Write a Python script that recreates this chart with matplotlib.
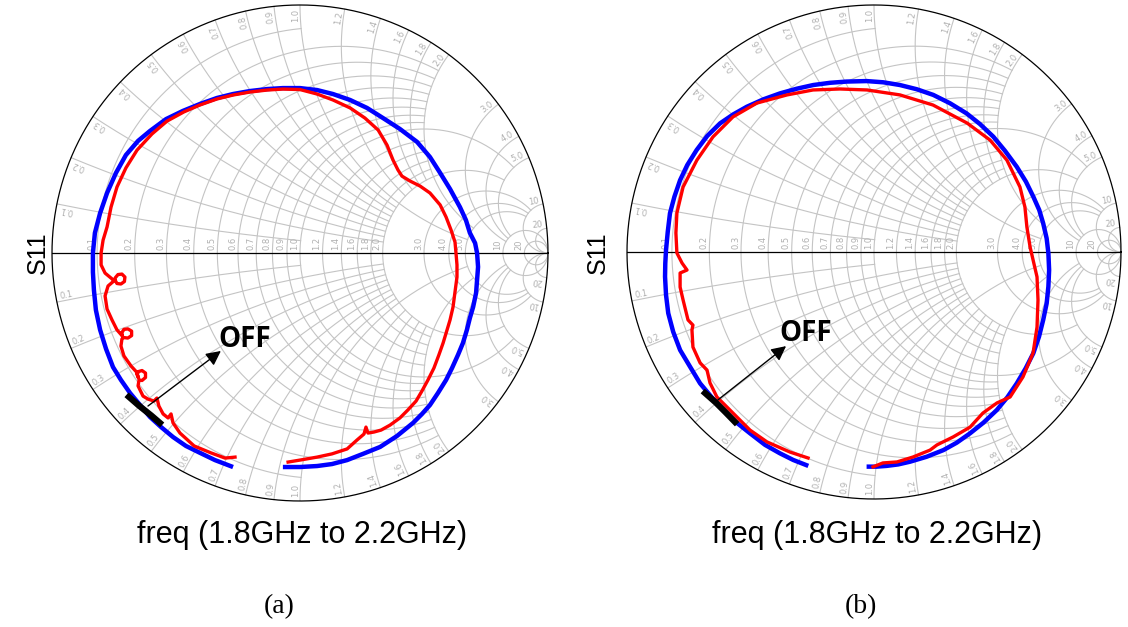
import numpy as np
import matplotlib
matplotlib.use("Agg")
import matplotlib.pyplot as plt

# ---------------- data (reflection coefficient, real / imag) ----------------
blue_a_re = [-0.270, -0.343, -0.403, -0.460, -0.512, -0.560, -0.605, -0.645, -0.685, -0.722,
             -0.754, -0.782, -0.806, -0.823, -0.831, -0.835, -0.835, -0.827, -0.806, -0.778,
             -0.742, -0.702, -0.653, -0.605, -0.540, -0.472, -0.403, -0.335, -0.270, -0.202,
             -0.133, -0.069, 0.000, 0.069, 0.133, 0.202, 0.270, 0.335, 0.403, 0.472,
             0.524, 0.565, 0.605, 0.645, 0.669, 0.685, 0.706, 0.714, 0.718, 0.714,
             0.710, 0.698, 0.685, 0.673, 0.657, 0.637, 0.613, 0.589, 0.556, 0.524,
             0.492, 0.456, 0.391, 0.323, 0.254, 0.190, 0.129, 0.069, 0.000, -0.069]
blue_a_im = [-0.863, -0.835, -0.806, -0.778, -0.742, -0.702, -0.661, -0.613, -0.565, -0.512,
             -0.460, -0.387, -0.310, -0.230, -0.149, -0.077, 0.000, 0.081, 0.161, 0.242,
             0.323, 0.395, 0.452, 0.492, 0.540, 0.573, 0.601, 0.625, 0.641, 0.653,
             0.661, 0.665, 0.665, 0.657, 0.641, 0.617, 0.585, 0.544, 0.500, 0.448,
             0.387, 0.323, 0.258, 0.185, 0.133, 0.081, 0.040, 0.000, -0.056, -0.109,
             -0.161, -0.218, -0.262, -0.310, -0.363, -0.411, -0.464, -0.512, -0.565, -0.613,
             -0.649, -0.685, -0.738, -0.782, -0.810, -0.835, -0.851, -0.859, -0.863, -0.863]

red_a_re = [-0.262, -0.302, -0.359, -0.427, -0.484, -0.512, -0.520, -0.532, -0.552, -0.569,
            -0.577, -0.589, -0.613, -0.633, -0.653, -0.649, -0.637, -0.623, -0.623, -0.637,
            -0.651, -0.657, -0.651, -0.659, -0.681, -0.710, -0.722, -0.718, -0.710, -0.694,
            -0.679, -0.679, -0.694, -0.710, -0.718, -0.716, -0.738, -0.758, -0.778, -0.786,
            -0.774, -0.746, -0.738, -0.722, -0.708, -0.706, -0.718, -0.734, -0.744, -0.750,
            -0.786, -0.802,
            -0.802, -0.794, -0.778, -0.762, -0.738, -0.702, -0.657, -0.597, -0.536, -0.468,
            -0.403, -0.335, -0.270, -0.202, -0.133, -0.069, 0.000, 0.069, 0.133, 0.202,
            0.262, 0.315, 0.351, 0.375, 0.395, 0.411, 0.444, 0.484, 0.524, 0.565,
            0.589, 0.609, 0.625, 0.629, 0.633, 0.633, 0.625, 0.617, 0.605, 0.593,
            0.577, 0.560, 0.540, 0.516, 0.492, 0.468, 0.435, 0.403, 0.363, 0.327,
            0.298, 0.274, 0.266, 0.258, 0.230, 0.190, 0.129, 0.069, 0.000, -0.048]
red_a_im = [-0.823, -0.827, -0.806, -0.778, -0.726, -0.685, -0.649, -0.665, -0.649, -0.617,
            -0.585, -0.597, -0.589, -0.577, -0.536, -0.512, -0.514, -0.502, -0.484, -0.474,
            -0.478, -0.490, -0.504, -0.480, -0.456, -0.415, -0.375, -0.347, -0.341, -0.343,
            -0.333, -0.315, -0.306, -0.308, -0.321, -0.335, -0.310, -0.270, -0.226, -0.173,
            -0.133, -0.109, -0.123, -0.125, -0.115, -0.097, -0.085, -0.087, -0.099, -0.111,
            -0.081, -0.048,
            0.000, 0.052, 0.105, 0.185, 0.266, 0.343, 0.415, 0.480, 0.532, 0.569,
            0.597, 0.621, 0.637, 0.649, 0.657, 0.661, 0.659, 0.641, 0.617, 0.585,
            0.544, 0.496, 0.435, 0.375, 0.335, 0.310, 0.290, 0.270, 0.242, 0.194,
            0.145, 0.093, 0.044, 0.000, -0.048, -0.097, -0.157, -0.218, -0.270, -0.310,
            -0.363, -0.411, -0.464, -0.512, -0.556, -0.597, -0.633, -0.665, -0.694, -0.714,
            -0.722, -0.726, -0.702, -0.730, -0.754, -0.790, -0.810, -0.823, -0.835, -0.843]

blue_b_re = [-0.266, -0.327, -0.381, -0.441, -0.502, -0.556, -0.610, -0.657, -0.704, -0.745,
             -0.785, -0.813, -0.833, -0.842, -0.846, -0.845, -0.842, -0.835, -0.826, -0.808,
             -0.785, -0.756, -0.718, -0.675, -0.623, -0.570, -0.515, -0.448, -0.381, -0.313,
             -0.246, -0.178, -0.111, -0.030, 0.038, 0.105, 0.173, 0.240, 0.308, 0.375,
             0.429, 0.483, 0.530, 0.578, 0.615, 0.645, 0.669, 0.685, 0.699, 0.706,
             0.709, 0.706, 0.699, 0.685, 0.668, 0.645, 0.614, 0.578, 0.540, 0.497,
             0.443, 0.389, 0.335, 0.281, 0.213, 0.146, 0.098, 0.051, 0.011, -0.030]
blue_b_im = [-0.866, -0.842, -0.815, -0.781, -0.734, -0.691, -0.640, -0.588, -0.532, -0.464,
             -0.397, -0.323, -0.248, -0.174, -0.100, -0.046, 0.008, 0.082, 0.157, 0.224,
             0.291, 0.352, 0.413, 0.470, 0.521, 0.557, 0.588, 0.618, 0.642, 0.661,
             0.676, 0.685, 0.690, 0.692, 0.687, 0.676, 0.659, 0.636, 0.602, 0.561,
             0.518, 0.467, 0.410, 0.345, 0.285, 0.224, 0.170, 0.116, 0.055, -0.005,
             -0.073, -0.140, -0.208, -0.275, -0.343, -0.410, -0.471, -0.532, -0.588, -0.640,
             -0.691, -0.734, -0.772, -0.802, -0.829, -0.849, -0.860, -0.866, -0.869, -0.869]

red_b_re = [-0.267, -0.340, -0.433, -0.502, -0.555, -0.583, -0.636, -0.664, -0.676, -0.704,
            -0.733, -0.737, -0.733, -0.753, -0.773, -0.785, -0.785, -0.757, -0.777, -0.798,
            -0.802, -0.798, -0.773, -0.717, -0.652, -0.571, -0.474, -0.352, -0.247, -0.138,
            -0.028, 0.105, 0.239, 0.377, 0.470, 0.538, 0.591, 0.611, 0.619, 0.632,
            0.644, 0.660, 0.664, 0.660, 0.644, 0.603, 0.551, 0.498, 0.441, 0.389,
            0.320, 0.255, 0.227, 0.158, 0.093, 0.036, -0.004]
red_b_im = [-0.834, -0.810, -0.769, -0.721, -0.668, -0.640, -0.587, -0.530, -0.478, -0.449,
            -0.385, -0.316, -0.296, -0.275, -0.194, -0.142, -0.085, -0.073, -0.045, -0.004,
            0.077, 0.158, 0.263, 0.372, 0.466, 0.547, 0.603, 0.636, 0.656, 0.660,
            0.656, 0.636, 0.595, 0.522, 0.453, 0.372, 0.263, 0.182, 0.101, 0.020,
            -0.032, -0.101, -0.194, -0.304, -0.409, -0.506, -0.587, -0.611, -0.652, -0.709,
            -0.749, -0.781, -0.802, -0.830, -0.850, -0.854, -0.870]

off_a_re = [-0.690, -0.650, -0.600, -0.565]
off_a_im = [-0.580, -0.615, -0.655, -0.685]
off_b_re = [-0.684, -0.640, -0.600, -0.563]
off_b_im = [-0.571, -0.610, -0.650, -0.688]

arrow_a = [(-0.613, -0.617), (-0.319, -0.395)]
arrow_b = [(-0.632, -0.599), (-0.356, -0.381)]
off_label_a = (-0.225, -0.347)
off_label_b = (-0.275, -0.328)

# Smith grid values and the extent each line is drawn to
grid_vals = [0.1, 0.2, 0.3, 0.4, 0.5, 0.6, 0.7, 0.8, 0.9, 1.0,
             1.2, 1.4, 1.6, 1.8, 2.0, 3.0, 4.0, 5.0, 10, 20]
grid_limits = [1, 2, 2, 2, 2, 2, 2, 2, 2, 5,
               2, 2, 2, 2, 5, 10, 10, 10, 1000, 1000]

GRID_COL = '#c4c4c4'
LABEL_COL = '#b0b0b0'


def gam(z):
    return (z - 1) / (z + 1)


def fmt(v):
    return f"{v:.1f}" if v <= 5 else f"{int(v)}"


def smith_grid(ax):
    for v, lim in zip(grid_vals, grid_limits):
        # resistance circle
        t = np.linspace(-np.arctan(lim), np.arctan(lim), 600)
        g = gam(v + 1j * np.tan(t))
        ax.plot(g.real, g.imag, color=GRID_COL, lw=0.8, zorder=1)
        # reactance arcs
        t = np.linspace(0, np.arctan(lim), 600)
        r = np.tan(t)
        for s in (1, -1):
            g = gam(r + 1j * s * v)
            ax.plot(g.real, g.imag, color=GRID_COL, lw=0.8, zorder=1)
        # labels on the real axis
        gr = (v - 1) / (v + 1)
        ax.text(gr - 0.004, 0.012, fmt(v), rotation=90, ha='right', va='bottom',
                fontsize=6, color=LABEL_COL, zorder=2)
        # labels along the rim
        for s in (1, -1):
            ge = gam(1j * s * v)
            th = np.degrees(np.arctan2(ge.imag, ge.real))
            p = 0.985 * ge
            if s > 0:
                ax.text(p.real, p.imag, fmt(v), rotation=th, rotation_mode='anchor',
                        ha='right', va='bottom', fontsize=6, color=LABEL_COL, zorder=2)
            else:
                ax.text(p.real, p.imag, fmt(v), rotation=th + 180, rotation_mode='anchor',
                        ha='left', va='bottom', fontsize=6, color=LABEL_COL, zorder=2)
    t = np.linspace(0, 2 * np.pi, 800)
    ax.plot(np.cos(t), np.sin(t), color='black', lw=0.9, zorder=3, clip_on=False)
    ax.plot([-1, 1], [0, 0], color='black', lw=0.9, zorder=3)
    ax.set_xlim(-1, 1)
    ax.set_ylim(-1, 1)
    ax.axis('off')


fig = plt.figure(figsize=(11.28, 6.27), dpi=100)
ax_a = fig.add_axes([52 / 1128, 1 - 501 / 627, 496 / 1128, 496 / 627])
ax_b = fig.add_axes([627 / 1128, 1 - 499 / 627, 494 / 1128, 494 / 627])

panels = [
    (ax_a, blue_a_re, blue_a_im, red_a_re, red_a_im, off_a_re, off_a_im, arrow_a, off_label_a),
    (ax_b, blue_b_re, blue_b_im, red_b_re, red_b_im, off_b_re, off_b_im, arrow_b, off_label_b),
]
for ax, bre, bim, rre, rim, ore, oim, arr, lab in panels:
    smith_grid(ax)
    ax.plot(bre, bim, color='#0000ff', lw=3.2, zorder=5, solid_capstyle='butt',
            solid_joinstyle='round')
    ax.plot(rre, rim, color='#ff0000', lw=2.4, zorder=6, solid_joinstyle='round')
    ax.plot(ore, oim, color='black', lw=4.5, zorder=7)
    ax.annotate('', xy=arr[1], xytext=arr[0],
                arrowprops=dict(arrowstyle='-|>', color='black', lw=1.0,
                                mutation_scale=22, shrinkA=0, shrinkB=0), zorder=8)
    ax.text(lab[0], lab[1], 'OFF', fontsize=20, fontweight='bold', family='Open Sans',
            ha='center', va='center', zorder=8)

for xc in (38 / 1128, 598 / 1128):
    fig.text(xc, 1 - 253 / 627, 'S11', rotation=90, ha='center', va='center',
             fontsize=18, family='Liberation Sans')
for xc in (302 / 1128, 877 / 1128):
    fig.text(xc, 1 - 535 / 627, 'freq (1.8GHz to 2.2GHz)', ha='center', va='center',
             fontsize=22, family='Liberation Sans')
fig.text(279 / 1128, 1 - 607 / 627, '(a)', ha='center', va='center', fontsize=20,
         family='Liberation Serif')
fig.text(861 / 1128, 1 - 607 / 627, '(b)', ha='center', va='center', fontsize=20,
         family='Liberation Serif')

fig.savefig('out.png', dpi=100, facecolor='white')
